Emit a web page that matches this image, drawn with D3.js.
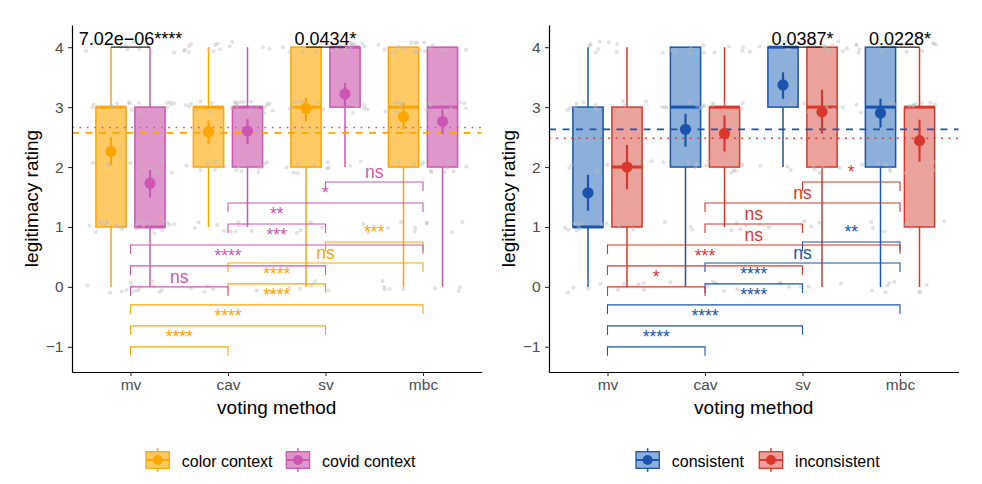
<!DOCTYPE html>
<html><head><meta charset="utf-8">
<script src="https://cdn.jsdelivr.net/npm/d3@7"></script>
<style>
body{margin:0;background:#fff}
text{font-family:"Liberation Sans",Arial,Helvetica,sans-serif}
</style>
</head><body>
<svg id="chart" width="982" height="484"></svg>
<script>
// ---------------- data ----------------
const categories = ["mv", "cav", "sv", "mbc"];
const yTickValues = [-1, 0, 1, 2, 3, 4];
const ratingLevels = [0, 1, 2, 3, 4];

// left panel: context
const leftGroups = ["color context", "covid context"];
const leftStroke = ["#FFA500", "#CC57B3"];
const leftFill = ["#FFCA66", "#DF97CB"];
// box stats per category: [lower whisker, q1, median, q3, upper whisker]
const colorBoxStats = [[0, 1, 3, 3, 4], [1, 2, 3, 3, 4], [0, 2, 3, 4, 4], [0, 2, 3, 4, 4]];
const covidBoxStats = [[0, 1, 1, 3, 4], [1, 2, 3, 3, 4], [2, 3, 4, 4, 4], [0, 2, 3, 4, 4]];
const colorMeans = [2.26, 2.59, 2.98, 2.84];
const colorCiLow = [2.03, 2.38, 2.76, 2.63];
const colorCiHigh = [2.50, 2.78, 3.16, 3.07];
const covidMeans = [1.73, 2.60, 3.22, 2.76];
const covidCiLow = [1.49, 2.38, 3.02, 2.55];
const covidCiHigh = [1.95, 2.80, 3.40, 2.96];
const leftOverallMeans = [2.57, 2.66];

// right panel: consistency
const rightGroups = ["consistent", "inconsistent"];
const rightStroke = ["#1A54AE", "#D8382B"];
const rightFill = ["#8DB0DA", "#ECA29C"];
const consistentBoxStats = [[0, 1, 1, 3, 4], [0, 2, 3, 4, 4], [2, 3, 4, 4, 4], [0, 2, 3, 4, 4]];
const inconsistentBoxStats = [[0, 1, 2, 3, 4], [1, 2, 3, 3, 4], [0, 2, 3, 4, 4], [0, 1, 3, 3, 4]];
const consistentMeans = [1.57, 2.63, 3.37, 2.90];
const consistentCiLow = [1.27, 2.34, 3.14, 2.66];
const consistentCiHigh = [1.87, 2.89, 3.58, 3.14];
const inconsistentMeans = [2.00, 2.56, 2.92, 2.44];
const inconsistentCiLow = [1.63, 2.26, 2.56, 2.09];
const inconsistentCiHigh = [2.37, 2.86, 3.29, 2.79];
const rightOverallMeans = [2.63, 2.48];

// pairwise comparison brackets between voting methods
const pairFrom = ["mv", "mv", "mv", "cav", "cav", "sv"];
const pairTo = ["cav", "sv", "mbc", "sv", "mbc", "mbc"];
const firstGroupBracketY = [-1.0, -0.65, -0.30, 0.05, 0.40, 0.75];
const secondGroupBracketY = [0.0, 0.35, 0.70, 1.05, 1.40, 1.75];
const colorLabels = ["****", "****", "****", "****", "ns", "***"];
const covidLabels = ["ns", "****", "***", "**", "*", "ns"];
const consistentLabels = ["****", "****", "****", "****", "ns", "**"];
const inconsistentLabels = ["*", "***", "ns", "ns", "ns", "*"];

// between-group comparisons at the top
const leftTopCats = ["mv", "sv"];
const leftTopLabels = ["7.02e\u221206****", "0.0434*"];
const rightTopCats = ["sv", "mbc"];
const rightTopLabels = ["0.0387*", "0.0228*"];

// raw rating counts (ratings 0..4) per category, drawn as jittered points
const leftRatingCounts = [[14, 22, 10, 18, 10], [6, 10, 16, 24, 14], [6, 6, 10, 16, 22], [8, 8, 12, 18, 20]];
const rightRatingCounts = [[10, 14, 8, 12, 8], [6, 8, 12, 16, 12], [6, 6, 8, 12, 16], [8, 8, 10, 12, 14]];

// ---------------- drawing ----------------
const svg = d3.select("#chart");
const y = d3.scaleLinear().domain([-1.42, 4.37]).range([372, 25]);
// deterministic jitter offsets (hash of point index), layout only
const hash = (k, s) => { const t = Math.sin(k * 12.9898 + s * 78.233) * 43758.5453; return t - Math.floor(t); };

function drawPanel(p) {
  const g = svg.append("g");
  const x = d3.scalePoint().domain(categories).range([p.x0, p.x1]).padding(0.6);
  const step = x.step();
  const dodge = 0.2 * step, bw = 0.31 * step;
  const gx = (c, gi) => x(c) + (gi === 0 ? -dodge : dodge);

  // boxes
  p.boxStats.forEach((stats, gi) => {
    const bg = g.append("g");
    const rows = categories.map((c, i) => ({c, s: stats[i]}));
    bg.selectAll(".wl").data(rows).join("line")
      .attr("x1", d => gx(d.c, gi)).attr("x2", d => gx(d.c, gi))
      .attr("y1", d => y(d.s[0])).attr("y2", d => y(d.s[1]))
      .attr("stroke", p.stroke[gi]).attr("stroke-width", 1.5);
    bg.selectAll(".wu").data(rows).join("line")
      .attr("x1", d => gx(d.c, gi)).attr("x2", d => gx(d.c, gi))
      .attr("y1", d => y(d.s[3])).attr("y2", d => y(d.s[4]))
      .attr("stroke", p.stroke[gi]).attr("stroke-width", 1.5);
    bg.selectAll(".bx").data(rows).join("rect")
      .attr("x", d => gx(d.c, gi) - bw / 2).attr("width", bw)
      .attr("y", d => y(d.s[3])).attr("height", d => y(d.s[1]) - y(d.s[3]))
      .attr("fill", p.fill[gi]).attr("stroke", p.stroke[gi]).attr("stroke-width", 1.5);
    bg.selectAll(".md").data(rows).join("line")
      .attr("x1", d => gx(d.c, gi) - bw / 2).attr("x2", d => gx(d.c, gi) + bw / 2)
      .attr("y1", d => y(d.s[2])).attr("y2", d => y(d.s[2]))
      .attr("stroke", p.stroke[gi]).attr("stroke-width", 3);
  });

  // jittered raw points
  const pts = [];
  let k = 0;
  p.counts.forEach((cnt, ci) => {
    cnt.forEach((n, ri) => {
      for (let j = 0; j < n; j++) {
        k++;
        pts.push({c: categories[ci], r: ratingLevels[ri], u: hash(k, p.seed), v: hash(k, p.seed + 7)});
      }
    });
  });
  g.append("g").selectAll("circle").data(pts).join("circle")
    .attr("cx", d => x(d.c) + (d.u - 0.5) * 0.92 * step)
    .attr("cy", d => y(d.r + (d.v - 0.5) * 0.2))
    .attr("r", 2).attr("fill", "#bdbdbd").attr("opacity", 0.45);

  // overall mean reference lines
  p.overall.forEach((m, gi) => {
    g.append("line").attr("x1", p.x0).attr("x2", p.x1)
      .attr("y1", y(m)).attr("y2", y(m))
      .attr("stroke", p.stroke[gi]).attr("stroke-width", 1.7)
      .attr("stroke-dasharray", gi === 0 ? "7,6.5" : "1.8,5.6");
  });

  // means with CI
  p.means.forEach((means, gi) => {
    const rows = categories.map((c, i) => ({c, m: means[i], lo: p.lo[gi][i], hi: p.hi[gi][i]}));
    const mg = g.append("g");
    mg.selectAll("line").data(rows).join("line")
      .attr("x1", d => gx(d.c, gi)).attr("x2", d => gx(d.c, gi))
      .attr("y1", d => y(d.lo)).attr("y2", d => y(d.hi))
      .attr("stroke", p.stroke[gi]).attr("stroke-width", 2.2);
    mg.selectAll("circle").data(rows).join("circle")
      .attr("cx", d => gx(d.c, gi)).attr("cy", d => y(d.m)).attr("r", 5.6)
      .attr("fill", p.stroke[gi]);
  });

  // pairwise brackets
  const tip = 9;
  [[p.bracketY[0], p.labels[0]], [p.bracketY[1], p.labels[1]]].forEach(([ys, labs], gi) => {
    const rows = pairFrom.map((a, i) => ({a, b: pairTo[i], yv: ys[i], lab: labs[i]}));
    const brg = g.append("g");
    brg.selectAll("path").data(rows).join("path")
      .attr("d", d => `M${x(d.a)},${y(d.yv) + tip}V${y(d.yv)}H${x(d.b)}V${y(d.yv) + tip}`)
      .attr("fill", "none").attr("stroke", p.stroke[gi]).attr("stroke-width", 1.1);
    brg.selectAll("text").data(rows).join("text")
      .attr("x", d => (x(d.a) + x(d.b)) / 2).attr("y", d => y(d.yv) - 4)
      .attr("text-anchor", "middle").attr("font-size", 17.5)
      .attr("fill", p.stroke[gi]).text(d => d.lab);
  });

  // top between-group comparisons
  p.topCats.forEach((c, i) => {
    g.append("line").attr("x1", gx(c, 0)).attr("x2", gx(c, 1))
      .attr("y1", y(4)).attr("y2", y(4)).attr("stroke", "#222").attr("stroke-width", 1.1);
    g.append("text").attr("x", x(c)).attr("y", y(4) - 2)
      .attr("text-anchor", "middle").attr("font-size", 18).attr("fill", "#000")
      .text(p.topLabels[i]);
  });

  // axes
  const ya = g.append("g").attr("transform", `translate(${p.x0},0)`)
    .call(d3.axisLeft(y).tickValues(yTickValues).tickSize(4).tickSizeOuter(0).tickPadding(4.5)
      .tickFormat(d => d < 0 ? "\u2212" + Math.abs(d) : d));
  const xa = g.append("g").attr("transform", `translate(0,372)`)
    .call(d3.axisBottom(x).tickSize(4).tickSizeOuter(0).tickPadding(3));
  [ya, xa].forEach(a => {
    a.select(".domain").attr("stroke", "#000").attr("stroke-width", 1.2);
    a.selectAll(".tick line").attr("stroke", "#333").attr("stroke-width", 1.1);
    a.selectAll(".tick text").attr("font-size", 15.5).attr("fill", "#4d4d4d")
      .attr("font-family", "'Liberation Sans',Arial,sans-serif");
  });

  g.append("text").attr("x", (p.x0 + p.x1) / 2).attr("y", 414)
    .attr("text-anchor", "middle").attr("font-size", 19).attr("fill", "#000").text("voting method");
  g.append("text").attr("transform", `translate(${p.x0 - 34},198.5) rotate(-90)`)
    .attr("text-anchor", "middle").attr("font-size", 19).attr("fill", "#000").text("legitimacy rating");

  // legend
  const lg = g.append("g");
  p.groups.forEach((name, gi) => {
    const kx = p.legendX[gi], ky = 451.7, kw = 23.3, kh = 16.6;
    const key = lg.append("g");
    key.append("line").attr("x1", kx + kw / 2).attr("x2", kx + kw / 2).attr("y1", ky - 3.5).attr("y2", ky + kh + 3.5)
      .attr("stroke", p.stroke[gi]).attr("stroke-width", 1.5);
    key.append("rect").attr("x", kx).attr("y", ky).attr("width", kw).attr("height", kh)
      .attr("fill", p.fill[gi]).attr("stroke", p.stroke[gi]).attr("stroke-width", 1.3);
    key.append("line").attr("x1", kx).attr("x2", kx + kw).attr("y1", ky + kh / 2).attr("y2", ky + kh / 2)
      .attr("stroke", p.stroke[gi]).attr("stroke-width", 2);
    key.append("circle").attr("cx", kx + kw / 2).attr("cy", ky + kh / 2).attr("r", 5).attr("fill", p.stroke[gi]);
    lg.append("text").attr("x", kx + kw + 12.5).attr("y", 466.7).attr("font-size", 16).attr("fill", "#000").text(name);
  });
}

drawPanel({
  x0: 72, x1: 481.5, seed: 1,
  groups: leftGroups, stroke: leftStroke, fill: leftFill,
  boxStats: [colorBoxStats, covidBoxStats],
  means: [colorMeans, covidMeans], lo: [colorCiLow, covidCiLow], hi: [colorCiHigh, covidCiHigh],
  overall: leftOverallMeans,
  bracketY: [firstGroupBracketY, secondGroupBracketY], labels: [colorLabels, covidLabels],
  topCats: leftTopCats, topLabels: leftTopLabels,
  counts: leftRatingCounts,
  legendX: [146, 286.3]
});
drawPanel({
  x0: 549, x1: 958.5, seed: 3,
  groups: rightGroups, stroke: rightStroke, fill: rightFill,
  boxStats: [consistentBoxStats, inconsistentBoxStats],
  means: [consistentMeans, inconsistentMeans], lo: [consistentCiLow, inconsistentCiLow], hi: [consistentCiHigh, inconsistentCiHigh],
  overall: rightOverallMeans,
  bracketY: [firstGroupBracketY, secondGroupBracketY], labels: [consistentLabels, inconsistentLabels],
  topCats: rightTopCats, topLabels: rightTopLabels,
  counts: rightRatingCounts,
  legendX: [636, 759.3]
});
</script>
</body></html>
